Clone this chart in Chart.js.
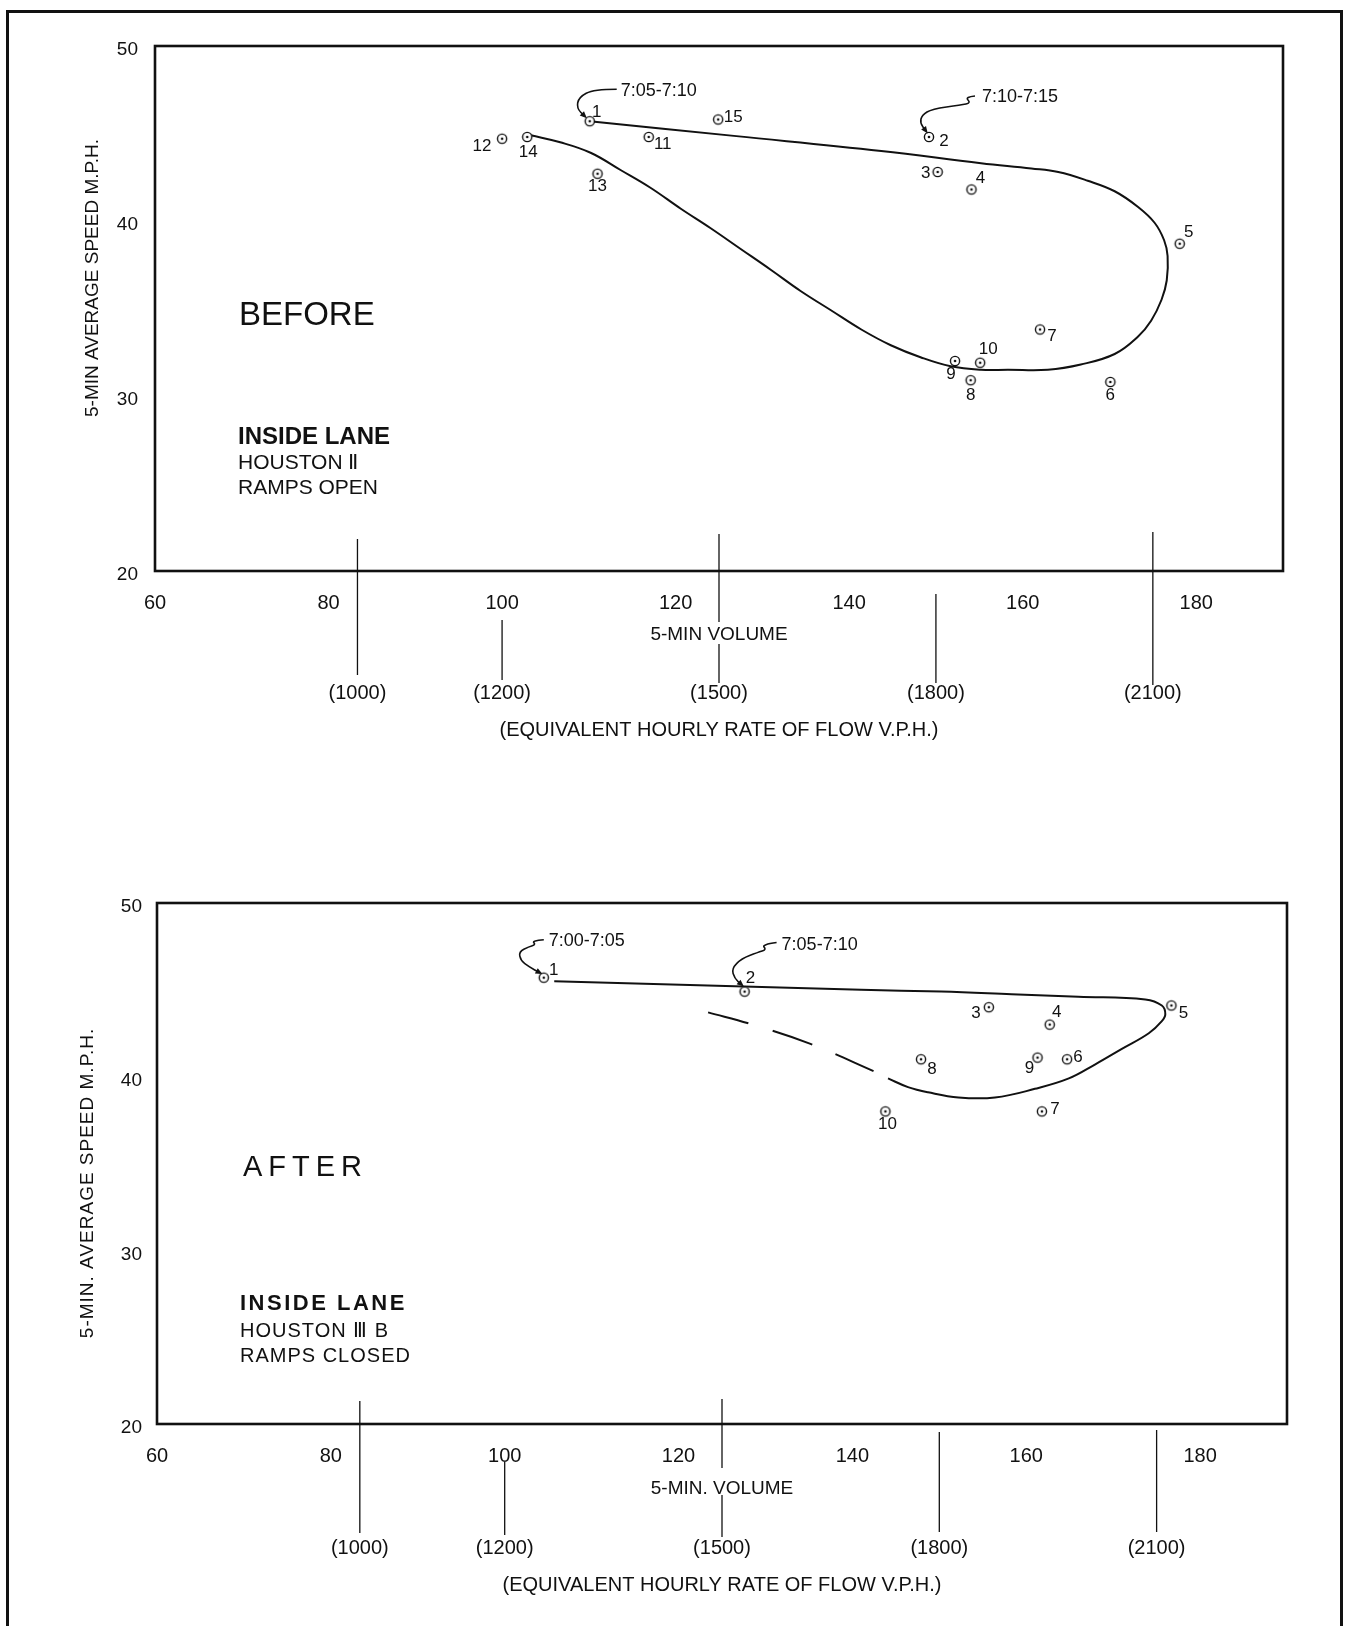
<!DOCTYPE html>
<html>
<head>
<meta charset="utf-8">
<script src="https://cdn.jsdelivr.net/npm/chart.js@4.4.1/dist/chart.umd.min.js"></script>
<style>
html, body { margin: 0; padding: 0; background: #fff; }
body { width: 1348px; height: 1626px; position: relative; overflow: hidden; }
#frame { position: absolute; left: 6px; top: 10px; width: 1331px; height: 1640px; border: 3px solid #111; border-bottom: none; }
canvas { position: absolute; left: 0; }
#before { top: 0; }
#after { top: 800px; }
</style>
</head>
<body>
<div id="frame"></div>
<canvas id="before" width="1348" height="746"></canvas>
<canvas id="after" width="1348" height="800"></canvas>
<script>
// readings, numbered 1.. in time order (5-min volume, 5-min average speed)
var beforeVolume = [110.1, 149.2, 150.2, 154.1, 178.1, 170.1, 162.0, 154.0, 152.2, 155.1, 116.9, 100.0, 111.0, 102.9, 124.9];
var beforeSpeed  = [45.7, 44.8, 42.8, 41.8, 38.7, 30.8, 33.8, 30.9, 32.0, 31.9, 44.8, 44.7, 42.7, 44.8, 45.8];
var afterVolume  = [104.5, 127.6, 155.7, 162.7, 176.7, 164.7, 161.8, 147.9, 161.3, 143.8];
var afterSpeed   = [45.7, 44.9, 44.0, 43.0, 44.1, 41.0, 38.0, 41.0, 41.1, 38.0];

// hand drawn trend curves
var beforeCurveVolume = [110.1, 127.0, 143.7, 155.2, 161.0, 164.1, 167.5, 170.6, 173.3, 175.2, 176.3, 176.7, 176.6, 176.0, 174.8, 173.3, 170.6, 166.7, 162.9, 158.3, 155.2, 151.7, 148.3, 144.8, 141.4, 137.9, 134.4, 131.0, 127.5, 124.0, 120.6, 117.1, 113.7, 110.2, 106.7, 103.3];
var beforeCurveSpeed  = [45.7, 44.85, 44.0, 43.3, 43.0, 42.8, 42.3, 41.7, 40.8, 39.9, 38.9, 38.0, 36.6, 35.5, 34.3, 33.4, 32.4, 31.8, 31.5, 31.5, 31.5, 31.7, 32.2, 32.9, 33.8, 34.9, 36.0, 37.2, 38.4, 39.6, 40.7, 41.9, 42.9, 43.9, 44.5, 44.9];
var afterCurveVolume  = [105.7, 141.0, 150.2, 158.3, 166.0, 173.7, 175.6, 176.0, 175.6, 174.1, 171.0, 167.9, 164.9, 161.0, 156.4, 152.2, 148.7, 146.4, 144.1];
var afterCurveSpeed   = [45.5, 45.0, 44.9, 44.75, 44.6, 44.45, 44.1, 43.6, 43.2, 42.5, 41.6, 40.7, 39.9, 39.3, 38.8, 38.8, 39.1, 39.4, 39.9];
var afterDashVolume   = [123.4, 128.5, 135.1, 143.0];
var afterDashSpeed    = [43.7, 43.0, 41.9, 40.2];

var volumeTicks = [60, 80, 100, 120, 140, 160, 180];
var speedTicks  = [20, 30, 40, 50];
var hourlyTicks = [1000, 1200, 1500, 1800, 2100]; // equivalent hourly rate, 12 x 5-min volume

var ink = '#111';
var family = "'Liberation Sans', Arial, sans-serif";

function pairs(xs, ys) {
    return xs.map((v, i) => ({ x: v, y: ys[i] }));
}

// circle with a dot, as drawn on the sheet
function ringDot() {
    var c = document.createElement('canvas');
    c.width = c.height = 14;
    var g = c.getContext('2d');
    g.lineWidth = 1.4;
    g.strokeStyle = ink;
    g.fillStyle = '#fff';
    g.beginPath(); g.arc(7, 7, 4.6, 0, Math.PI * 2); g.fill(); g.stroke();
    g.fillStyle = ink;
    g.beginPath(); g.arc(7, 7, 1.3, 0, Math.PI * 2); g.fill();
    return c;
}
var ring = ringDot();

function smoothPath(ctx, pts) {
    ctx.beginPath();
    ctx.moveTo(pts[0][0], pts[0][1]);
    for (var i = 1; i < pts.length - 1; i++) {
        var mx = (pts[i][0] + pts[i + 1][0]) / 2, my = (pts[i][1] + pts[i + 1][1]) / 2;
        ctx.quadraticCurveTo(pts[i][0], pts[i][1], mx, my);
    }
    var last = pts[pts.length - 1];
    ctx.lineTo(last[0], last[1]);
    ctx.stroke();
}

var sheetPlugin = {
    id: 'sheet',
    afterDraw(chart, args, opts) {
	const ctx = chart.ctx, a = chart.chartArea;
	const x2 = chart.scales.x2;
	ctx.save();
	ctx.strokeStyle = ink;
	ctx.fillStyle = ink;

	// plot frame
	ctx.lineWidth = 2.6;
	ctx.strokeRect(a.left, a.top, a.right - a.left, a.bottom - a.top);

	// construction lines for the hourly rate scale
	ctx.lineWidth = 1.3;
	hourlyTicks.forEach((v, i) => {
	    const px = x2.getPixelForValue(v);
	    opts.rateSpans[i].forEach(s => {
		ctx.beginPath();
		ctx.moveTo(px, a.bottom + s[0]);
		ctx.lineTo(px, a.bottom + s[1]);
		ctx.stroke();
	    });
	});

	// speed axis title
	ctx.save();
	ctx.translate(opts.yTitleAt[0], opts.yTitleAt[1]);
	ctx.rotate(-Math.PI / 2);
	ctx.font = '19px ' + family;
	ctx.letterSpacing = opts.yTitleSpacing;
	ctx.textAlign = 'center';
	ctx.textBaseline = 'middle';
	ctx.fillText(opts.yTitle, 0, 0);
	ctx.restore();

	// point numbers
	const meta = chart.getDatasetMeta(0);
	ctx.font = '17px ' + family;
	ctx.textAlign = 'center';
	ctx.textBaseline = 'middle';
	meta.data.forEach((pt, i) => {
	    const o = opts.numberOffsets[i];
	    ctx.fillText(String(i + 1), pt.x + o[0], pt.y + o[1]);
	});

	// time stamps with leaders
	ctx.lineWidth = 1.6;
	opts.stamps.forEach(s => {
	    const pt = meta.data[s.point];
	    const pts = s.path.map(p => [pt.x + p[0], pt.y + p[1]]);
	    smoothPath(ctx, pts);
	    const e = pts[pts.length - 1], b = pts[pts.length - 2];
	    const ang = Math.atan2(e[1] - b[1], e[0] - b[0]);
	    ctx.beginPath();
	    ctx.moveTo(e[0] + Math.cos(ang) * 3, e[1] + Math.sin(ang) * 3);
	    ctx.lineTo(e[0] - Math.cos(ang) * 4 - Math.sin(ang) * 3, e[1] - Math.sin(ang) * 4 + Math.cos(ang) * 3);
	    ctx.lineTo(e[0] - Math.cos(ang) * 4 + Math.sin(ang) * 3, e[1] - Math.sin(ang) * 4 - Math.cos(ang) * 3);
	    ctx.closePath();
	    ctx.fill();
	    ctx.font = '18px ' + family;
	    ctx.textAlign = 'left';
	    ctx.textBaseline = 'alphabetic';
	    ctx.fillText(s.text, pt.x + s.textAt[0], pt.y + s.textAt[1]);
	});

	// notes inside the plot
	ctx.textAlign = 'left';
	ctx.textBaseline = 'alphabetic';
	opts.notes.forEach(n => {
	    ctx.font = n.font + ' ' + family;
	    ctx.letterSpacing = n.spacing || '0px';
	    ctx.fillText(n.text, a.left + n.dx, a.top + n.dy);
	});
	ctx.restore();
    }
};

function buildChart(id, cfg) {
    const datasets = [{
	data: pairs(cfg.volume, cfg.speed),
	pointStyle: ring,
	pointRadius: 6,
	showLine: false
    }, {
	data: pairs(cfg.curveVolume, cfg.curveSpeed),
	showLine: true,
	pointRadius: 0,
	borderColor: ink,
	borderWidth: 2,
	tension: 0.4
    }];
    if (cfg.dashVolume) {
	datasets.push({
	    data: pairs(cfg.dashVolume, cfg.dashSpeed),
	    showLine: true,
	    pointRadius: 0,
	    borderColor: ink,
	    borderWidth: 2,
	    borderDash: [42, 25],
	    tension: 0.4
	});
    }
    return new Chart(document.getElementById(id), {
	type: 'scatter',
	data: { datasets: datasets },
	plugins: [sheetPlugin],
	options: {
	    responsive: false,
	    animation: false,
	    events: [],
	    layout: { padding: { top: cfg.padTop, right: cfg.padRight, left: 0, bottom: 0 } },
	    plugins: {
		legend: { display: false },
		tooltip: { enabled: false },
		sheet: cfg.sheet
	    },
	    scales: {
		x: {
		    type: 'linear', position: 'bottom', min: 60, max: 190, weight: 0,
		    afterBuildTicks: s => { s.ticks = volumeTicks.map(v => ({ value: v })); },
		    afterFit: s => { s.height = cfg.xHeight; },
		    grid: { display: false, drawTicks: false },
		    border: { display: false },
		    ticks: { padding: 20, color: ink, autoSkip: false, maxRotation: 0, font: { family: family, size: 20 } },
		    title: { display: true, text: cfg.xTitle, color: ink, font: { family: family, size: 19 }, padding: { top: 0, bottom: 0 } }
		},
		x2: {
		    type: 'linear', position: 'bottom', min: 720, max: 2280, weight: 1,
		    afterBuildTicks: s => { s.ticks = hourlyTicks.map(v => ({ value: v })); },
		    afterFit: s => { s.height = cfg.x2Height; },
		    grid: { display: false, drawTicks: false },
		    border: { display: false },
		    ticks: { padding: cfg.x2TickPad, color: ink, autoSkip: false, maxRotation: 0, font: { family: family, size: 20 },
			     callback: v => '(' + v + ')' },
		    title: { display: true, text: '(EQUIVALENT HOURLY RATE OF FLOW V.P.H.)', color: ink,
			     font: { family: family, size: 20 }, padding: { top: 0, bottom: cfg.x2TitlePad } }
		},
		y: {
		    type: 'linear', position: 'left', min: 20, max: 50,
		    afterBuildTicks: s => { s.ticks = speedTicks.map(v => ({ value: v })); },
		    afterFit: s => { s.width = cfg.yWidth; },
		    grid: { display: false, drawTicks: false },
		    border: { display: false },
		    ticks: { padding: cfg.yTickPad, labelOffset: 4, color: ink, font: { family: family, size: 19 } }
		}
	    }
	}
    });
}

buildChart('before', {
    volume: beforeVolume, speed: beforeSpeed,
    curveVolume: beforeCurveVolume, curveSpeed: beforeCurveSpeed,
    padTop: 46, padRight: 65, yWidth: 155, yTickPad: 17,
    xHeight: 75, x2Height: 100, x2TickPad: 35, x2TitlePad: 4,
    xTitle: '5-MIN VOLUME',
    sheet: {
	yTitle: '5-MIN AVERAGE SPEED M.P.H.', yTitleAt: [93, 278], yTitleSpacing: '0px',
	rateSpans: [[[-32, 104]], [[49, 109]], [[-37, 51], [73, 112]], [[23, 112]], [[-39, 114]]],
	numberOffsets: [[7, -9], [15, 4], [-12, 1], [9, -11], [9, -11], [0, 13], [12, 7], [0, 15], [-4, 13], [8, -13], [14, 7], [-20, 8], [0, 13], [1, 15], [15, -2]],
	stamps: [
	    { point: 0, text: '7:05-7:10', textAt: [31, -25],
	      path: [[27, -32], [4, -32], [-11, -24], [-13, -13], [-5, -5]] },
	    { point: 1, text: '7:10-7:15', textAt: [53, -35],
	      path: [[46, -41], [36, -40], [42, -34], [32, -32], [3, -28], [-7, -22], [-9, -14], [-3, -6]] }
	],
	notes: [
	    { text: 'BEFORE', dx: 84, dy: 279, font: '33px' },
	    { text: 'INSIDE LANE', dx: 83, dy: 398, font: 'bold 24px' },
	    { text: 'HOUSTON Ⅱ', dx: 83, dy: 423, font: '21px' },
	    { text: 'RAMPS OPEN', dx: 83, dy: 448, font: '21px' }
	]
    }
});

buildChart('after', {
    volume: afterVolume, speed: afterSpeed,
    curveVolume: afterCurveVolume, curveSpeed: afterCurveSpeed,
    dashVolume: afterDashVolume, dashSpeed: afterDashSpeed,
    padTop: 103, padRight: 61, yWidth: 157, yTickPad: 15,
    xHeight: 76, x2Height: 100, x2TickPad: 36, x2TitlePad: 3,
    xTitle: '5-MIN. VOLUME',
    sheet: {
	yTitle: '5-MIN. AVERAGE SPEED M.P.H.', yTitleAt: [88, 383], yTitleSpacing: '1px',
	rateSpans: [[[-23, 109]], [[38, 111]], [[-25, 44], [71, 113]], [[8, 108]], [[6, 108]]],
	numberOffsets: [[10, -7], [6, -13], [-13, 6], [7, -12], [12, 8], [11, -2], [13, -2], [11, 10], [-8, 11], [2, 13]],
	stamps: [
	    { point: 0, text: '7:00-7:05', textAt: [5, -32],
	      path: [[0, -38], [-12, -37], [-8, -33], [-15, -31], [-25, -26], [-23, -17], [-15, -11], [-4, -5]] },
	    { point: 1, text: '7:05-7:10', textAt: [37, -42],
	      path: [[32, -49], [17, -47], [22, -42], [13, -39], [-3, -33], [-13, -23], [-10, -13], [-3, -7]] }
	],
	notes: [
	    { text: 'AFTER', dx: 86, dy: 273, font: '29px', spacing: '6px' },
	    { text: 'INSIDE LANE', dx: 83, dy: 407, font: 'bold 22px', spacing: '2.5px' },
	    { text: 'HOUSTON Ⅲ B', dx: 83, dy: 434, font: '20px', spacing: '1px' },
	    { text: 'RAMPS CLOSED', dx: 83, dy: 459, font: '20px', spacing: '1px' }
	]
    }
});
</script>
</body>
</html>
